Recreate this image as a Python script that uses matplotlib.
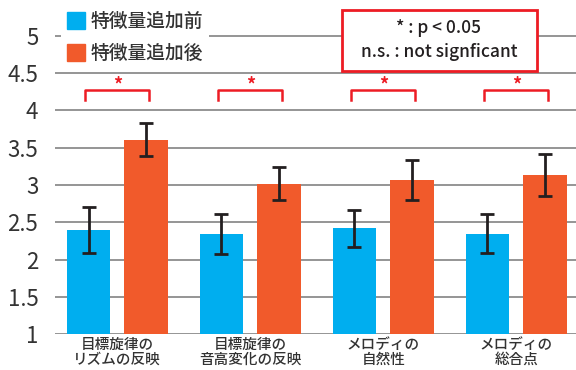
import numpy as np
import matplotlib
matplotlib.use("Agg")
import matplotlib.pyplot as plt
from matplotlib.patches import Patch, Rectangle

plt.rcParams['font.family'] = ['Noto Sans CJK JP', 'DejaVu Sans']

categories = ["目標旋律の\nリズムの反映", "目標旋律の\n音高変化の反映", "メロディの\n自然性", "メロディの\n総合点"]
series_names = ["特徴量追加前", "特徴量追加後"]
before = [2.40, 2.34, 2.42, 2.35]
before_err = [0.31, 0.27, 0.245, 0.265]
after = [3.61, 3.02, 3.07, 3.13]
after_err = [0.22, 0.22, 0.27, 0.28]
sig_marks = ["*", "*", "*", "*"]
yticks = [1, 1.5, 2, 2.5, 3, 3.5, 4, 4.5, 5]
ytick_labels = ["1", "1.5", "2", "2.5", "3", "3.5", "4", "4.5", "5"]

blue = "#00AEEF"
orange = "#F15A2B"
red = "#ED1C24"

fig = plt.figure(figsize=(5.76, 3.70), dpi=100)
ax = fig.add_axes([0.0955, 0.0965, 0.9045, 0.9035])

x = np.arange(len(categories))
w = 0.327
off = 0.216
ax.bar(x - off, before, w, color=blue, zorder=2)
ax.bar(x + off, after, w, color=orange, zorder=2)
ek = dict(ecolor="#231f20", elinewidth=2, capsize=5, capthick=2, zorder=3, fmt="none")
ax.errorbar(x - off, before, yerr=before_err, **ek)
ax.errorbar(x + off, after, yerr=after_err, **ek)

ax.set_xlim(-0.468, 3.45)
ax.set_ylim(1, 5.48)
ax.set_yticks(yticks)
ax.set_yticklabels(ytick_labels, fontsize=16, color="#333333")
ax.set_xticks(x)
ax.set_xticklabels(categories, fontsize=10.5, color="#333333", linespacing=1.0,
                   fontweight="medium")
ax.tick_params(axis="y", length=0, pad=12)
ax.tick_params(axis="x", length=0, pad=3)
for s in ax.spines.values():
    s.set_visible(False)
ax.yaxis.grid(True, color="#8c8c8c", lw=1.3, zorder=0)
ax.set_axisbelow(True)

# significance brackets
for xi, m in zip(x, sig_marks):
    ax.plot([xi - 0.24, xi - 0.24, xi + 0.24, xi + 0.24], [4.14, 4.275, 4.275, 4.14],
            color=red, lw=1.8, zorder=3)
    ax.text(xi, 4.34, m, color=red, fontsize=13, ha="center", va="center", fontweight="bold")

handles = [Patch(color=blue), Patch(color=orange)]
leg = ax.legend(handles, series_names, loc="upper left", bbox_to_anchor=(61 / 576, 1 - 6 / 370),
                bbox_transform=fig.transFigure, fontsize=13.5, frameon=True, fancybox=False,
                edgecolor="none", facecolor="white", framealpha=1, handlelength=1.0,
                handleheight=1.0, handletextpad=0.3, labelspacing=0.7, borderpad=0.3,
                borderaxespad=0, prop={"weight": "medium", "size": 13.5})
for t in leg.get_texts():
    t.set_color("#333333")

fig.patches.append(Rectangle((341.7 / 576, 1 - 70.7 / 370), 195.6 / 576, 60.7 / 370,
                             transform=fig.transFigure, fc="white", ec=red, lw=2, zorder=5))
fig.text(439 / 576, 1 - 28 / 370, "* : p < 0.05", ha="center", va="center", fontsize=12.5,
         fontweight="medium", color="#231f20", zorder=6)
fig.text(439 / 576, 1 - 52 / 370, "n.s. : not signficant", ha="center", va="center", fontsize=12.5,
         fontweight="medium", color="#231f20", zorder=6)

fig.savefig("out.png", dpi=100)
